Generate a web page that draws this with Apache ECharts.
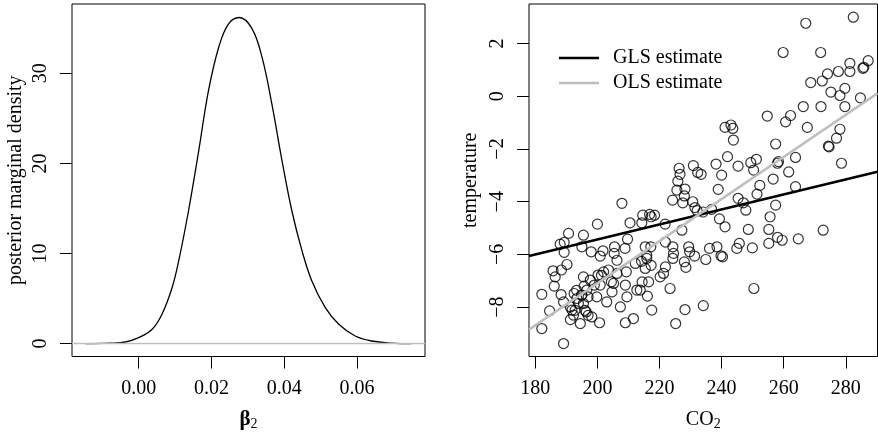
<!DOCTYPE html>
<html>
<head>
<meta charset="utf-8">
<script src="https://cdn.jsdelivr.net/npm/echarts@6/dist/echarts.min.js"></script>
<style>
  html, body { margin: 0; padding: 0; background: #fff; }
  #chart { width: 878px; height: 434px; }
</style>
</head>
<body>
<div id="chart"></div>
<script>
// 左图：β2 后验边际密度（读图取点）
const betaX = [-0.0147, -0.008, -0.0037, 0.0, 0.0037, 0.0064, 0.0092, 0.0110, 0.0137, 0.0165,
  0.0192, 0.0220, 0.0247, 0.0276, 0.0311, 0.0339, 0.0366, 0.0394, 0.0421, 0.0449,
  0.0476, 0.0513, 0.0550, 0.0595, 0.0641, 0.0695, 0.0749];
const betaDensity = [0.0, 0.05, 0.18, 0.67, 1.59, 3.26, 6.23, 9.19, 14.75, 21.4,
  28.1, 32.9, 35.5, 36.2, 35.0, 31.8, 26.6, 20.3, 14.75, 10.3,
  6.96, 4.0, 2.15, 0.85, 0.29, 0.06, 0.0];

// 右图：CO2 与 temperature 散点
const co2 = [
  282.4, 267.1, 259.8, 271.9, 287.2, 281.3, 285.5, 285.8, 277.6, 281.3,
  274.1, 272.4, 268.7, 279.7, 275.2, 278.1, 284.7, 266.3, 272.0, 279.7,
  254.7, 262.2, 260.6, 267.6, 278.1, 277.0, 274.4, 274.6, 257.4, 258.3,
  258.0, 263.8, 278.6, 261.6, 256.6, 263.8, 241.1, 243.0, 243.6, 243.8,
  241.9, 245.3, 238.2, 249.4, 251.2, 250.3, 240.0, 238.9, 252.3, 251.4,
  245.3, 247.0, 247.8, 257.4, 255.6, 255.2, 248.6, 241.1, 239.3, 236.8,
  272.7, 264.7, 258.0, 259.5, 255.2, 245.7, 244.9, 249.9, 236.1, 238.5,
  239.8, 240.3, 234.9, 250.4, 234.1,
  224.2, 226.3, 226.6, 225.9, 225.6, 228.2, 228.0, 227.5, 230.9, 232.3,
  233.4, 230.7, 231.4, 232.1, 234.0, 221.8, 227.2, 229.4, 229.7, 231.3,
  228.0, 228.5, 224.3, 224.5, 224.3, 223.4, 228.2, 225.2, 221.9, 221.9,
  221.3, 220.2,
  207.9, 210.5, 214.6, 214.3, 216.8, 217.3, 218.4, 200.0, 209.7, 215.4,
  215.9, 217.2, 205.5, 208.9, 205.4, 206.3, 201.8, 200.9, 198.0, 195.5,
  195.0, 190.7, 189.3, 188.0, 189.3, 190.2, 185.7, 188.4, 186.4, 186.1,
  182.1, 184.6, 182.1, 189.1, 188.3, 189.1, 191.3, 191.8, 191.3, 192.3,
  192.5, 193.4, 193.9, 194.5, 195.5, 195.7, 195.0, 195.5, 196.4, 197.7,
  198.2, 196.6, 199.0, 199.8, 200.2, 200.9, 203.0, 200.7, 202.0, 203.6,
  204.7, 205.2, 206.3, 207.4, 209.0, 209.0, 209.3, 209.5, 211.6, 212.2,
  213.8, 214.4, 215.4, 215.9, 216.5, 216.1, 217.5, 217.3, 212.7, 214.2,
  193.3, 194.9, 197.0, 197.0, 192.8, 196.0, 204.5, 201.3
];
const temperature = [
  3.00, 2.77, 1.66, 1.66, 1.35, 1.25, 1.06, 1.10, 0.94, 0.94,
  0.85, 0.58, 0.52, 0.30, 0.16, 0.03, -0.06, -0.39, -0.39, -0.39,
  -0.75, -0.73, -0.97, -1.18, -1.25, -1.59, -1.89, -1.92, -1.81, -2.48,
  -2.54, -2.32, -2.54, -2.87, -3.14, -3.43, -1.18, -1.09, -1.22, -1.66,
  -2.29, -2.65, -2.57, -2.52, -2.39, -2.80, -2.99, -3.53, -3.38, -3.71,
  -3.87, -4.04, -4.32, -4.13, -4.57, -5.05, -5.05, -4.95, -4.65, -4.29,
  -5.08, -5.41, -5.35, -5.46, -5.58, -5.58, -5.77, -5.75, -5.77, -5.71,
  -6.05, -6.09, -6.19, -7.29, -7.94,
  -3.94, -2.73, -2.96, -3.22, -3.56, -3.52, -3.78, -4.04, -2.63, -2.89,
  -2.96, -4.00, -4.22, -4.34, -4.39, -4.85, -5.08, -5.71, -5.90, -6.06,
  -6.28, -6.49, -5.71, -5.96, -6.15, -7.29, -8.09, -8.62, -5.53, -6.47,
  -6.72, -6.85,
  -4.06, -4.80, -4.51, -4.80, -4.48, -4.57, -4.51, -4.85, -5.42, -5.71,
  -6.03, -5.71, -5.71, -5.77, -5.96, -6.22, -5.86, -6.06, -5.90, -5.27,
  -5.71, -5.20, -5.54, -5.61, -5.92, -6.38, -6.62, -6.59, -6.85, -7.20,
  -7.51, -8.14, -8.81, -9.38, -7.52, -7.80, -7.99, -8.11, -8.47, -8.30,
  -7.48, -7.67, -7.86, -8.62, -6.85, -7.20, -7.54, -7.86, -8.18, -6.97,
  -8.37, -7.35, -7.16, -7.61, -6.78, -7.16, -7.80, -8.59, -6.66, -6.59,
  -7.42, -7.10, -6.72, -7.99, -8.59, -7.16, -6.66, -7.61, -8.43, -6.34,
  -7.35, -7.04, -6.53, -6.15, -7.04, -7.58, -8.11, -6.41, -7.35, -6.26,
  -7.36, -7.55, -7.61, -8.31, -8.12, -8.12, -7.04, -6.79
];

// 两条回归线（在坐标框左右边缘取值）
const lineX = [177.97, 290.2];
const glsY = [-6.06, -2.86];
const olsY = [-8.85, 0.11];

// 刻度
const betaTicks = [0, 0.02, 0.04, 0.06];
const densityTicks = [0, 10, 20, 30];
const co2Ticks = [180, 200, 220, 240, 260, 280];
const tempTicks = [-8, -6, -4, -2, 0, 2];

const FONT = '"Liberation Serif", "DejaVu Serif", serif';
const FS = 20;

function fmtNum(v) {
  return v < 0 ? '\u2212' + Math.abs(v) : String(v);
}

function axis(opts) {
  const vertical = opts.vertical;
  return {
    type: 'value',
    gridIndex: opts.grid,
    min: opts.min,
    max: opts.max,
    name: opts.name,
    nameLocation: 'middle',
    nameGap: opts.nameGap,
    nameTextStyle: Object.assign({ color: '#000', fontFamily: FONT, fontSize: FS }, opts.nameStyle || {}),
    axisLine: { show: false, onZero: false },
    splitLine: { show: false },
    axisTick: {
      show: true, inside: false, length: 12,
      customValues: opts.ticks,
      lineStyle: { color: '#000', width: 1 }
    },
    axisLabel: {
      show: true,
      customValues: opts.ticks,
      rotate: vertical ? 90 : 0,
      margin: vertical ? 21 : 22,
      color: '#000', fontFamily: FONT, fontSize: FS,
      formatter: opts.formatter
    }
  };
}

const chart = echarts.init(document.getElementById('chart'), null, { renderer: 'canvas' });

chart.setOption({
  animation: false,
  backgroundColor: '#fff',
  grid: [
    { left: 72, top: 4, width: 353, height: 352.5, show: true, borderColor: '#000', borderWidth: 1,
      containLabel: false, outerBoundsMode: 'none' },
    { left: 529, top: 4, width: 348.5, height: 352.5, show: true, borderColor: '#000', borderWidth: 1,
      containLabel: false, outerBoundsMode: 'none' }
  ],
  xAxis: [
    axis({ grid: 0, min: -0.01833, max: 0.0787, ticks: betaTicks, nameGap: 52,
      name: '{b|β}{s|2}',
      nameStyle: { rich: {
        b: { fontSize: 21, fontFamily: FONT, fontWeight: 'bold', color: '#000' },
        s: { fontSize: 14, fontFamily: FONT, color: '#000', padding: [9, 0, 0, 0] }
      } },
      formatter: v => v.toFixed(2) }),
    axis({ grid: 1, min: 177.97, max: 290.2, ticks: co2Ticks, nameGap: 52,
      name: '{b|CO}{s|2}',
      nameStyle: { rich: {
        b: { fontSize: FS, fontFamily: FONT, color: '#000' },
        s: { fontSize: 14, fontFamily: FONT, color: '#000', padding: [9, 0, 0, 0] }
      } },
      formatter: v => String(v) })
  ],
  yAxis: [
    axis({ grid: 0, vertical: true, min: -1.43, max: 37.7, ticks: densityTicks, nameGap: 46,
      name: 'posterior marginal density', formatter: fmtNum }),
    axis({ grid: 1, vertical: true, min: -9.87, max: 3.5, ticks: tempTicks, nameGap: 48,
      name: 'temperature', formatter: fmtNum })
  ],
  legend: {
    data: [
      { name: 'GLS estimate', icon: 'rect', itemStyle: { color: '#000' } },
      { name: 'OLS estimate', icon: 'rect', itemStyle: { color: '#bebebe' } }
    ],
    orient: 'vertical',
    left: 554, top: 43,
    itemWidth: 40, itemHeight: 2.5, itemGap: 5,
    selectedMode: false,
    textStyle: { color: '#000', fontFamily: FONT, fontSize: FS, padding: [0, 0, 0, 9], height: 20, lineHeight: 20 }
  },
  series: [
    {
      name: 'density', type: 'line', xAxisIndex: 0, yAxisIndex: 0,
      data: betaX.map((x, i) => [x, betaDensity[i]]),
      smooth: 0.4, symbol: 'none',
      lineStyle: { color: '#000', width: 1.3 },
      markLine: {
        silent: true, symbol: 'none', label: { show: false },
        lineStyle: { color: '#bebebe', type: 'solid', width: 1.3 },
        data: [{ yAxis: 0 }]
      }
    },
    {
      name: 'points', type: 'scatter', xAxisIndex: 1, yAxisIndex: 1,
      data: co2.map((x, i) => [x, temperature[i]]),
      symbol: 'circle', symbolSize: 10,
      itemStyle: { color: 'rgba(0,0,0,0)', borderColor: '#000', borderWidth: 1.2 }
    },
    {
      name: 'GLS estimate', type: 'line', xAxisIndex: 1, yAxisIndex: 1,
      data: lineX.map((x, i) => [x, glsY[i]]),
      symbol: 'none', color: '#000',
      lineStyle: { color: '#000', width: 2.5 }
    },
    {
      name: 'OLS estimate', type: 'line', xAxisIndex: 1, yAxisIndex: 1,
      data: lineX.map((x, i) => [x, olsY[i]]),
      symbol: 'none', color: '#bebebe',
      lineStyle: { color: '#bebebe', width: 2.5 }
    }
  ]
});
</script>
</body>
</html>
